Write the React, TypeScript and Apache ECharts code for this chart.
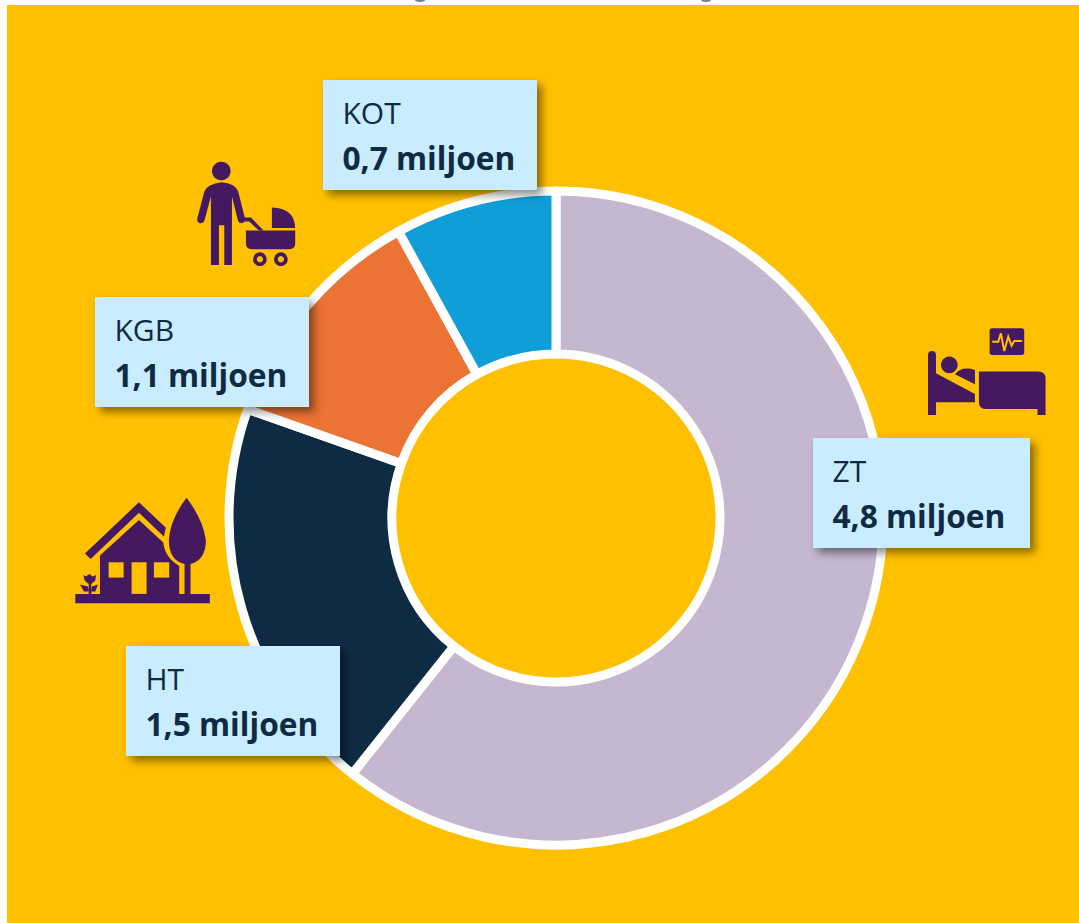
import React, { useEffect, useRef } from "react";
import * as echarts from "echarts";

const categories = ["ZT", "HT", "KGB", "KOT"];
const sliceShares = [60.7, 19.7, 11.6, 8.0];
const amountLabels = ["4,8 miljoen", "1,5 miljoen", "1,1 miljoen", "0,7 miljoen"];
const sliceColors = ["#C5B7CF", "#0F2A43", "#EB7333", "#0F9ED8"];
const boxPositions = [[813, 438], [126, 646], [95, 297], [323, 80]];

const PURPLE = "#44195F";
const YELLOW = "#FFC000";
const INK = "#0F2A43";
const FONT = '"Open Sans", sans-serif';

const shapes: Record<string, string> = {
  manBody:
    "M155,97 Q195,100 205,125 L225,205 Q226,218 214,220 Q206,220 204,212 L186,140 L186,345 L163,345 L163,226 L147,226 L147,345 L123,345 L123,140 L103,213 Q98,222 88,219 Q79,214 82,205 L103,125 Q112,102 155,97 Z",
  pramHandle: "M222,203 L243,203 L281,242 L267,242 L238,215 L222,215 Z",
  pramHood: "M306,173 Q374,175 376,234 L306,234 Z",
  pramBody: "M228,242 L376,242 L376,280 Q376,298 358,298 L246,298 Q228,298 228,280 Z",
  houseRoof: "M237,37 L318,113 L312,140 L237,68 L92,207 L75,191 Z",
  houseWalls: "M237,90 L310,158 Q316,205 358,228 L358,312 L120,312 L120,197 Z",
  houseGround: "M46,312 L450,312 L450,340 L46,340 Z",
  tree: "M380,23 Q330,90 327,150 Q327,212 374,222 L374,312 L392,312 L392,222 Q438,210 438,150 Q430,90 380,23 Z",
  flower:
    "M70,255 L78,260 L88,252 L98,260 L108,255 L106,272 L94,282 L94,312 L86,312 L86,282 L74,272 Z M60,284 L84,290 L86,305 L72,305 Z M114,284 L96,290 L94,305 L106,305 Z",
  bedHead:
    "M39,120 Q39,108 51,108 Q63,108 63,120 L63,175 L180,237 L180,262 L63,262 L63,300 L39,300 Z",
  blanket: "M120,178 Q140,152 180,165 L180,208 Z",
  bedFoot:
    "M192,170 L370,170 Q392,170 392,192 L392,300 L368,300 L368,282 L212,282 Q192,282 192,262 Z",
  monitor:
    "M232,40 L320,40 Q328,40 328,48 L328,112 Q328,120 320,120 L232,120 Q224,120 224,112 L224,48 Q224,40 232,40 Z",
};

Object.entries(shapes).forEach(([name, d]) => {
  echarts.graphic.registerShape(name, echarts.graphic.extendPath(d, {}) as any);
});

const Z = 10;
const icon = (x: number, y: number, names: string[], extras: any[] = []) => ({
  type: "group",
  x,
  y,
  scaleX: 1 / 3,
  scaleY: 1 / 3,
  z: Z,
  children: [
    ...names.map((n) => ({ type: n, z: Z, style: { fill: PURPLE } })),
    ...extras,
  ],
});

const hole = (x: number, y: number, w: number, h: number) => ({
  type: "rect",
  z: Z + 1,
  shape: { x, y, width: w, height: h },
  style: { fill: YELLOW },
});

const wheel = (cx: number, cy: number) => ({
  type: "circle",
  z: Z,
  shape: { cx, cy, r: 15 },
  style: { fill: YELLOW, stroke: PURPLE, lineWidth: 11 },
});

const labelBox = (i: number) => {
  const [x, y] = boxPositions[i];
  return [
    {
      type: "rect",
      z: Z,
      shape: { x, y, width: i === 0 ? 217 : 214, height: 110 },
      style: {
        fill: "#C9ECFE",
        shadowBlur: 9,
        shadowOffsetX: 5,
        shadowOffsetY: 5,
        shadowColor: "rgba(0,0,0,0.45)",
      },
    },
    {
      type: "text",
      z: Z + 1,
      x: x + 19.5,
      y: y + 32,
      style: {
        text: categories[i],
        font: `400 30px ${FONT}`,
        fill: INK,
        textVerticalAlign: "middle",
        verticalAlign: "middle",
      },
    },
    {
      type: "text",
      z: Z + 1,
      x: x + 19.5,
      y: y + 77,
      style: {
        text: amountLabels[i],
        font: `700 31.7px ${FONT}`,
        fill: INK,
        textVerticalAlign: "middle",
        verticalAlign: "middle",
      },
    },
  ];
};

export default function App() {
  const ref = useRef<HTMLDivElement>(null);
  useEffect(() => {
    document.body.style.margin = "0";
    const chart = echarts.init(ref.current!, null, { renderer: "svg" });
    chart.setOption({
      animation: false,
      backgroundColor: "#FFFFFF",
      graphic: {
        elements: [
          { type: "rect", z: -1, shape: { x: 7, y: 5, width: 1072, height: 918 }, style: { fill: YELLOW } },
          { type: "ellipse", z: 1, shape: { cx: 420, cy: 0, rx: 5, ry: 2 }, style: { fill: "#6F8292" } },
          { type: "ellipse", z: 1, shape: { cx: 706, cy: 0, rx: 5, ry: 2 }, style: { fill: "#6F8292" } },
          ...[0, 1, 2, 3].flatMap(labelBox),
          // man with pram
          icon(170, 150, ["manBody", "pramHandle", "pramHood", "pramBody"], [
            { type: "circle", z: Z, shape: { cx: 154, cy: 63, r: 28 }, style: { fill: PURPLE } },
            wheel(270, 328),
            wheel(333, 328),
          ]),
          // house with tree
          icon(60, 490, ["houseRoof", "houseWalls", "houseGround", "tree", "flower"], [
            hole(146, 217, 45, 46),
            hole(282, 217, 46, 46),
            hole(215, 217, 45, 95),
          ]),
          // hospital bed
          icon(915, 315, ["bedHead", "blanket", "bedFoot", "monitor"], [
            { type: "circle", z: Z, shape: { cx: 103, cy: 150, r: 25 }, style: { fill: PURPLE } },
            {
              type: "polyline",
              z: Z + 1,
              shape: { points: [[232, 80], [250, 80], [258, 55], [268, 108], [280, 65], [290, 92], [298, 78], [322, 78]] },
              style: { fill: "none", stroke: YELLOW, lineWidth: 6 },
            },
          ]),
        ],
      },
      series: [
        {
          type: "pie",
          center: [556, 518],
          radius: [164, 327],
          startAngle: 90,
          clockwise: true,
          silent: true,
          label: { show: false },
          labelLine: { show: false },
          itemStyle: { borderColor: "#FFFFFF", borderWidth: 9 },
          data: categories.map((name, i) => ({
            name,
            value: sliceShares[i],
            itemStyle: { color: sliceColors[i] },
          })),
        },
      ],
    });
    return () => chart.dispose();
  }, []);
  return <div ref={ref} style={{ position: "absolute", left: 0, top: 0, width: 1079, height: 923 }} />;
}
